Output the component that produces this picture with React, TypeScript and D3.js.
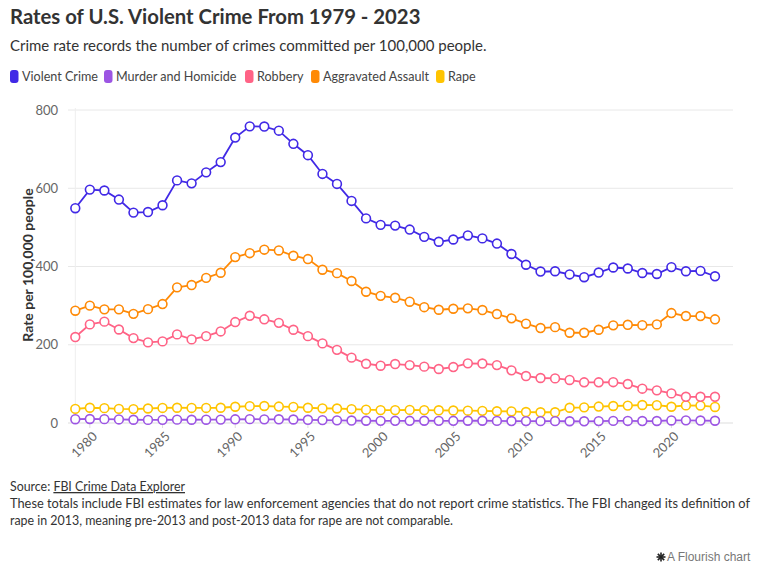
import React from "react";
import * as d3 from "d3";

const years = d3.range(1979, 2024);

const violentCrime = [549, 596.6, 594.3, 571.1, 537.7, 539.2, 556.6, 620.1, 612.5, 640.6, 666.9, 729.6, 758.2, 757.7, 747.1, 713.6, 684.5, 636.6, 611.0, 567.6, 523.0, 506.5, 504.5, 494.4, 475.8, 463.2, 469.0, 479.3, 471.8, 458.6, 431.9, 404.5, 387.1, 387.8, 379.7, 372.6, 384.6, 397.5, 394.9, 383.4, 380.8, 398.5, 387.8, 388.9, 375.0];
const murder = [9.7, 10.2, 9.8, 9.1, 8.3, 7.9, 8.0, 8.6, 8.3, 8.4, 8.7, 9.4, 9.8, 9.3, 9.5, 9.0, 8.2, 7.4, 6.8, 6.3, 5.7, 5.5, 5.6, 5.6, 5.7, 5.5, 5.6, 5.8, 5.7, 5.4, 5.0, 4.8, 4.7, 4.7, 4.5, 4.4, 4.9, 5.4, 5.3, 5.0, 5.1, 6.5, 6.8, 6.3, 5.7];
const robbery = [219.7, 252, 259, 239, 217, 206, 208.6, 226.5, 213.7, 222, 234, 258, 274, 265, 256, 238.4, 222, 203.5, 187, 167, 151.5, 146.4, 150.7, 148, 144, 138, 143, 152.5, 152, 148, 134.6, 120, 115, 114, 110, 104, 104, 104.3, 99.6, 87.7, 83.5, 75.6, 67, 67, 67];
const aggravatedAssault = [287, 300, 290.5, 290.5, 279, 291, 304, 346.7, 352.6, 371, 384, 424, 434, 443, 441, 427.5, 419, 391.7, 383, 363, 335.5, 325, 320, 310, 296, 289.5, 292, 293, 288.7, 278.5, 267.5, 253.8, 242.7, 245, 230.7, 230.7, 238.4, 249.6, 251, 250, 252, 281, 273.4, 273.4, 265];
const rape = [36, 39, 38, 36, 35.5, 37, 38.5, 39, 38.5, 38.5, 39, 41.5, 43, 43.5, 42, 41, 39, 37.5, 37, 35.5, 34, 33, 33, 33.5, 33, 32.5, 32, 31.5, 31, 30, 29.5, 28, 27.5, 27.5, 39, 40, 42, 43.5, 44.5, 46, 45.5, 41.5, 45, 44.5, 41];

const seriesNames = ["Violent Crime", "Murder and Homicide", "Robbery", "Aggravated Assault", "Rape"];
const seriesColors = ["#4129e6", "#9c55e3", "#ff6386", "#ff8a06", "#ffc400"];
const seriesValues = [violentCrime, murder, robbery, aggravatedAssault, rape];
const yTicks = [0, 200, 400, 600, 800];
const xTicks = [1980, 1985, 1990, 1995, 2000, 2005, 2010, 2015, 2020];

const FONT = "Lato, 'Open Sans', sans-serif";

export default function App() {
  const x = d3.scaleLinear().domain([1979, 2023]).range([75.3, 715]);
  const y = d3.scaleLinear().domain([0, 800]).range([423, 110]);
  const line = d3
    .line<[number, number]>()
    .x((d) => x(d[0]))
    .y((d) => y(d[1]));

  const legendX = [10, 104, 245, 311, 436];
  const drawOrder = [4, 1, 2, 3, 0];

  return (
    <svg
      width={768}
      height={578}
      style={{ position: "absolute", left: 0, top: 0, background: "#fff" }}
      fontFamily={FONT}
    >
      <text x={10} y={24} fontSize={20.3} fontWeight={700} fill="#333">
        Rates of U.S. Violent Crime From 1979 - 2023
      </text>
      <text x={10} y={51} fontSize={15} fill="#333">
        Crime rate records the number of crimes committed per 100,000 people.
      </text>

      {seriesNames.map((name, i) => (
        <g key={name}>
          <rect x={legendX[i]} y={70} width={8.5} height={13} rx={3} fill={seriesColors[i]} />
          <text x={legendX[i] + 12} y={81} fontSize={12.6} fill="#444">
            {name}
          </text>
        </g>
      ))}

      {yTicks.map((t) => (
        <g key={t}>
          <line x1={68} x2={733} y1={y(t)} y2={y(t)} stroke={t === 0 ? "#dddddd" : "#e8e8e8"} strokeWidth={1} />
          <text x={58} y={y(t)} dy="0.35em" textAnchor="end" fontSize={13} fill="#666">
            {t}
          </text>
        </g>
      ))}
      <line x1={75.3} x2={75.3} y1={108} y2={423} stroke="#eeeeee" strokeWidth={1} />

      {xTicks.map((t) => (
        <g key={t}>
          <line x1={x(t)} x2={x(t)} y1={423} y2={428} stroke="#dddddd" strokeWidth={1} />
          <text
            transform={`translate(${x(t) + 5},${434}) rotate(-45)`}
            textAnchor="end"
            dy="0.35em"
            fontSize={13}
            fill="#666"
          >
            {t}
          </text>
        </g>
      ))}

      <text
        transform={`translate(33,265) rotate(-90)`}
        textAnchor="middle"
        fontSize={14}
        fontWeight={700}
        fill="#333"
      >
        Rate per 100,000 people
      </text>

      {drawOrder.map((si) => {
        const pts: [number, number][] = years.map((yr, j) => [yr, seriesValues[si][j]]);
        return (
          <g key={si}>
            <path d={line(pts) || ""} fill="none" stroke={seriesColors[si]} strokeWidth={1.8} />
            {pts.map((p, j) => (
              <circle key={j} cx={x(p[0])} cy={y(p[1])} r={4.4} fill="#fff" stroke={seriesColors[si]} strokeWidth={1.6} />
            ))}
          </g>
        );
      })}

      <text x={10} y={491} fontSize={13} fill="#333" textLength={175} lengthAdjust="spacingAndGlyphs">
        Source: <tspan textDecoration="underline" style={{ textDecoration: "underline" }}>FBI Crime Data Explorer</tspan>
      </text>
      <text x={10} y={508} fontSize={13} fill="#333" textLength={740} lengthAdjust="spacingAndGlyphs">
        These totals include FBI estimates for law enforcement agencies that do not report crime statistics. The FBI changed its definition of
      </text>
      <text x={10} y={525} fontSize={13} fill="#333" textLength={443} lengthAdjust="spacingAndGlyphs">
        rape in 2013, meaning pre-2013 and post-2013 data for rape are not comparable.
      </text>

      <g transform="translate(661,557)" stroke="#222" strokeWidth={1.6}>
        {[0, 45, 90, 135].map((a) => (
          <line key={a} x1={-4.5} x2={4.5} y1={0} y2={0} transform={`rotate(${a})`} />
        ))}
      </g>
      <text x={667} y={561} fontSize={12} fill="#777" fontFamily="'Liberation Sans', Arial, sans-serif">
        A Flourish chart
      </text>
    </svg>
  );
}
